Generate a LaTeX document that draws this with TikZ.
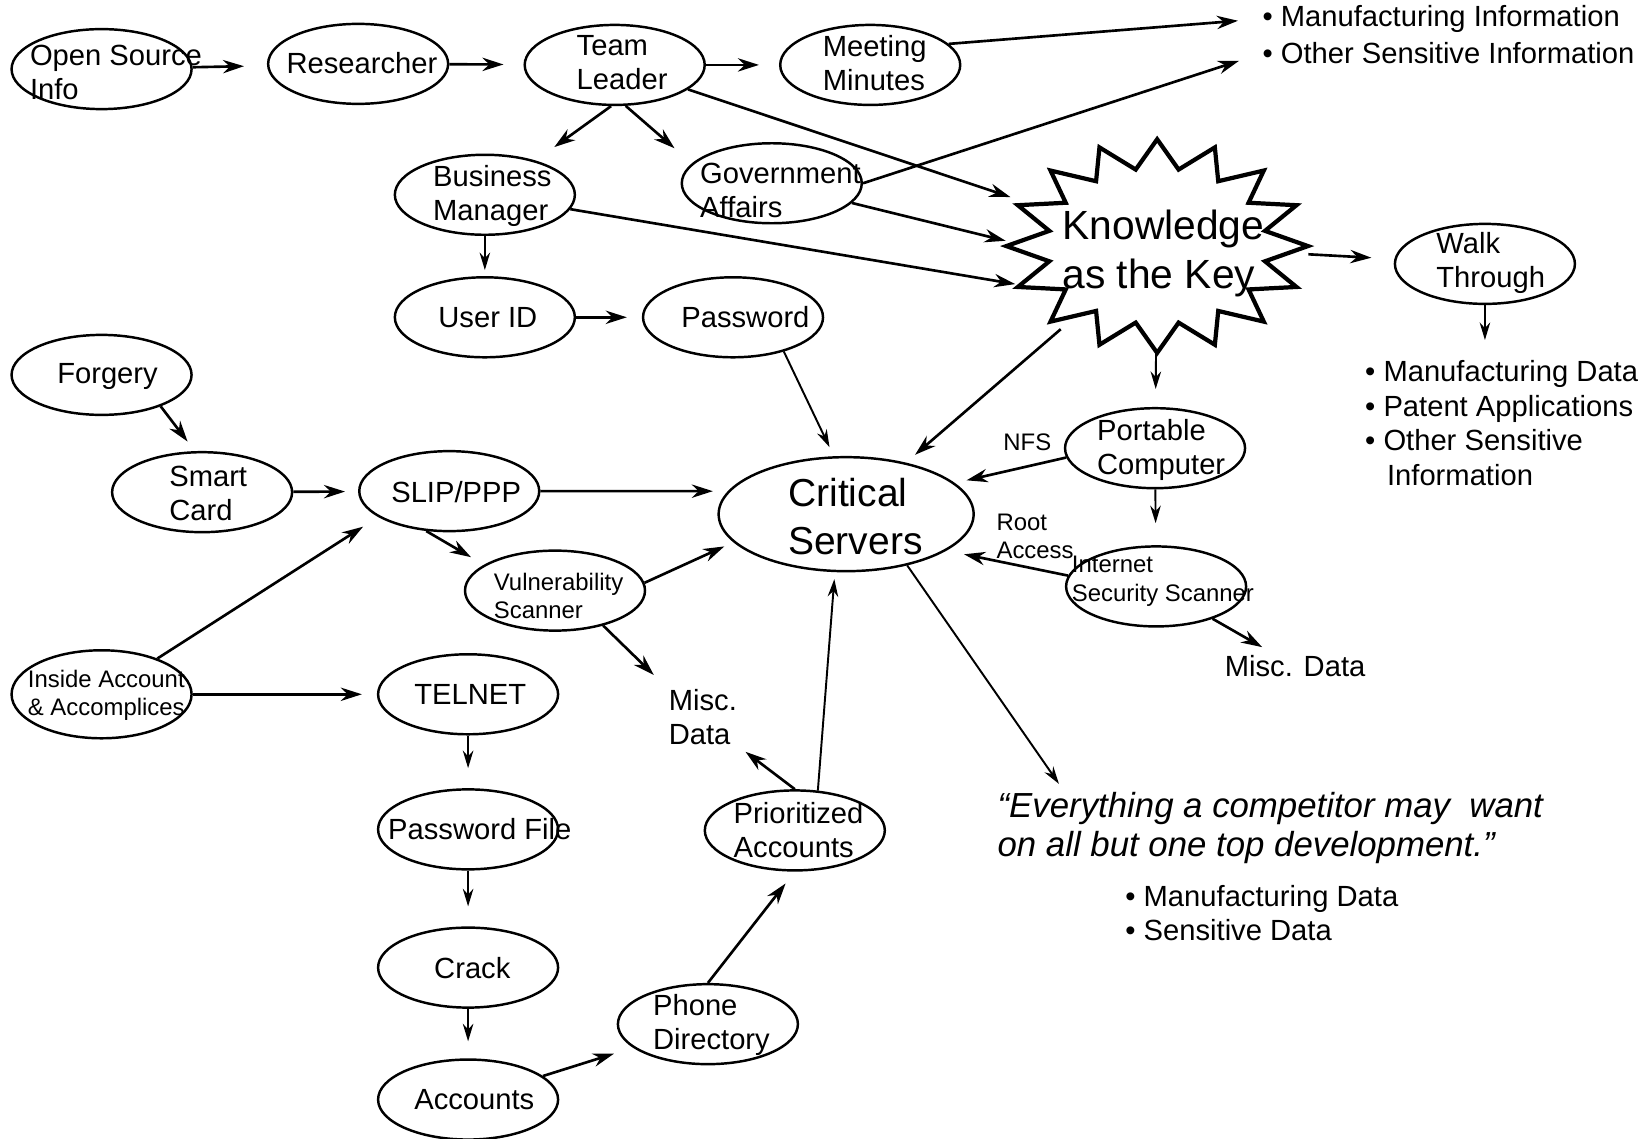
\documentclass[tikz,border=0pt]{standalone}
\usepackage{fontspec}
\setmainfont{Liberation Sans}
\usetikzlibrary{arrows.meta,shapes.geometric}
\tikzset{
  bub/.style={draw, ellipse, line width=0.7pt, minimum width=1.80cm, minimum height=0.80cm, inner sep=0pt},
  txt/.style={anchor=west, align=left, inner sep=0pt, font=\fontsize{8.3}{9.7}\selectfont},
  stxt/.style={txt, font=\fontsize{6.8}{8.1}\selectfont},
  arr/.style={-{Stealth[length=6pt,width=3.8pt]}, line width=0.75pt, shorten >=2mm},
  tarr/.style={-{Stealth[length=5pt,width=3pt]}, line width=0.55pt, shorten >=2mm}
}

\begin{document}
\begin{tikzpicture}[x=1.0472cm, y=1.0472cm]
  \useasboundingbox (0,0) rectangle (15.68,10.87);

  % Top row
  \node[bub] (osi) at (0.97,10.21) {};
  \node[txt] (osi-t) at (0.28,10.18) {Open Source\\Info};
  \node[bub] (res) at (3.42,10.26) {};
  \node[txt] (res-t) at (2.73,10.27) {Researcher};
  \node[bub] (tl) at (5.87,10.25) {};
  \node[txt] (tl-t) at (5.50,10.27) {Team\\Leader};
  \node[bub] (mins) at (8.31,10.25) {};
  \node[txt] (mins-t) at (7.85,10.27) {Meeting\\Minutes};
  \node[txt, font=\fontsize{8.3}{9.8}\selectfont] (mi1) at (12.05,10.69) {• Manufacturing Information};
  \node[txt, font=\fontsize{8.3}{9.8}\selectfont] (mi2) at (12.05,10.36) {• Other Sensitive Information};

  % Second row
  \node[bub] (bm) at (4.63,9.01) {};
  \node[txt] (bm-t) at (4.13,9.00) {Business\\Manager};
  \node[bub] (ga) at (7.37,9.12) {};
  \node[txt] (ga-t) at (6.68,9.05) {Government\\Affairs};
  \node[bub] (uid) at (4.63,7.84) {};
  \node[txt] (uid-t) at (4.18,7.84) {User ID};
  \node[bub] (pw) at (7.00,7.84) {};
  \node[txt] (pw-t) at (6.50,7.84) {Password};

  % Knowledge star
  \begin{scope}[shift={(11.05,8.52)}]
    \draw[line width=1.2pt, line join=miter] (90:1.44 and 1.02)
      \foreach \a in {90,112.5,...,427.5} { -- (\a+11.25:1.05 and 0.745) -- (\a+22.5:1.44 and 1.02) } -- cycle;
  \end{scope}
  \node[ellipse, minimum width=3.02cm, minimum height=2.14cm, inner sep=0pt] (key) at (11.05,8.52) {};
  \node[txt, font=\fontsize{11.6}{14.2}\selectfont] (key-t) at (10.14,8.45) {Knowledge\\as the Key};

  \node[bub] (wt) at (14.18,8.35) {};
  \node[txt] (wt-t) at (13.71,8.36) {Walk\\Through};
  \node[txt, font=\fontsize{8.3}{9.8}\selectfont] (wtl) at (13.03,6.83) {• Manufacturing Data\\• Patent Applications\\• Other Sensitive\\\hspace*{0.75em}Information};

  \node[bub] (port) at (11.03,6.59) {};
  \node[txt] (port-t) at (10.47,6.57) {Portable\\Computer};
  \node[bub] (iss) at (11.04,5.27) {};
  \node[stxt] (iss-t) at (10.23,5.32) {Internet\\Security Scanner};
  \node[txt] (md2) at (11.69,4.51) {Misc. Data};
  \node[stxt, anchor=center] (nfs) at (9.81,6.65) {NFS};
  \node[stxt] (root) at (9.51,5.75) {Root\\Access};

  % Critical servers
  \node[bub, minimum width=2.55cm, minimum height=1.14cm] (cs) at (8.08,5.96) {};
  \node[txt, font=\fontsize{11.1}{13.7}\selectfont] (cs-t) at (7.52,5.94) {Critical\\Servers};

  % Quote
  \node[txt, font=\fontsize{9.9}{11}\selectfont\itshape] (quote) at (9.52,2.96) {“Everything a competitor may\ \ want\\on all but one top development.”};
  \node[txt, font=\fontsize{8.3}{9.6}\selectfont] (ql) at (10.74,2.15) {• Manufacturing Data\\• Sensitive Data};

  % Left side
  \node[bub] (forg) at (0.97,7.29) {};
  \node[txt] (forg-t) at (0.54,7.27) {Forgery};
  \node[bub] (sc) at (1.93,6.17) {};
  \node[txt] (sc-t) at (1.61,6.16) {Smart\\Card};
  \node[bub] (slip) at (4.29,6.18) {};
  \node[txt] (slip-t) at (3.73,6.17) {SLIP/PPP};
  \node[bub] (vs) at (5.30,5.23) {};
  \node[stxt] (vs-t) at (4.71,5.18) {Vulnerability\\Scanner};
  \node[txt] (md1) at (6.38,4.02) {Misc.\\Data};
  \node[bub, minimum height=0.88cm] (ins) at (0.97,4.24) {};
  \node[stxt] (ins-t) at (0.26,4.23) {Inside Account\\\& Accomplices};
  \node[bub] (tel) at (4.47,4.24) {};
  \node[txt] (tel-t) at (3.95,4.24) {TELNET};
  \node[bub] (pwf) at (4.47,2.95) {};
  \node[txt] (pwf-t) at (3.70,2.95) {Password File};
  \node[bub] (crack) at (4.47,1.63) {};
  \node[txt] (crack-t) at (4.14,1.63) {Crack};
  \node[bub] (acc) at (4.47,0.37) {};
  \node[txt] (acc-t) at (3.95,0.37) {Accounts};
  \node[bub] (pd) at (6.76,1.09) {};
  \node[txt] (pd-t) at (6.23,1.08) {Phone\\Directory};
  \node[bub] (pa) at (7.59,2.94) {};
  \node[txt] (pa-t) at (7.00,2.94) {Prioritized\\Accounts};

  % Arrows, top part
  \draw[arr, shorten >=2.3mm] (osi) -- (res);
  \draw[arr] (res) -- (tl);
  \draw[arr] (tl) -- (mins);
  \draw[arr, shorten >=2.4mm] (mins.15) -- (mi1.west);
  \draw[arr, shorten >=2.4mm] (ga.east) -- (mi2.west);
  \draw[arr, shorten >=2.3mm] (tl.265) -- (bm.34);
  \draw[arr, shorten >=2.3mm] (tl.285) -- (ga.166);
  \draw[arr, shorten >=1mm] (tl) -- (key);
  \draw[arr, shorten >=0pt] (ga) -- (key.178);
  \draw[arr, shorten >=0pt] (bm) -- (key.195);
  \draw[tarr, shorten >=0.6mm] (bm) -- (uid);
  \draw[arr, shorten >=1.5mm] (uid) -- (pw);
  \draw[tarr, shorten >=1mm] (pw.326) -- (cs.102);
  \draw[arr, shorten >=2.3mm] (key) -- (wt);
  \draw[tarr] (wt) -- (wt |- wtl.north);
  \draw[arr, shorten >=1.2mm] (key) -- (cs);
  \draw[tarr, shorten >=1.8mm] (key) -- (port);
  \draw[arr, shorten >=1.2mm] (port.186) -- (cs.16);
  \draw[tarr, shorten >=2.2mm] (port) -- (iss);
  \draw[arr, shorten >=1.8mm] (iss.173) -- (cs.340);
  \draw[arr, shorten >=1.5mm] (iss) -- (md2);
  \draw[tarr, shorten >=1mm] (cs.320) -- (quote.170);

  % Arrows, left part
  \draw[arr, shorten >=1.2mm] (forg.332) -- (sc.100);
  \draw[arr, shorten >=1.3mm] (sc) -- (slip);
  \draw[arr, shorten >=1.5mm] (slip) -- (cs.169);
  \draw[arr, shorten >=1.5mm] (slip.240) -- (vs.160);
  \draw[arr, shorten >=1mm] (vs.5) -- (cs.194);
  \draw[arr] (vs.324) -- (md1.north west);
  \draw[arr, shorten >=1.8mm] (ins) -- (slip.200);
  \draw[arr, shorten >=1.5mm] (ins) -- (tel);
  \draw[tarr] (tel) -- (pwf);
  \draw[tarr] (pwf) -- (crack);
  \draw[tarr, shorten >=1.7mm] (crack) -- (acc);
  \draw[arr] (acc) -- (pd);
  \draw[arr, shorten >=1.5mm] (pd.north) -- (pa.south);
  \draw[tarr, shorten >=0.7mm] (pa.60) -- (cs.259);
  \draw[arr, shorten >=1mm] (pa.north) -- (md1.south east);
\end{tikzpicture}
\end{document}
